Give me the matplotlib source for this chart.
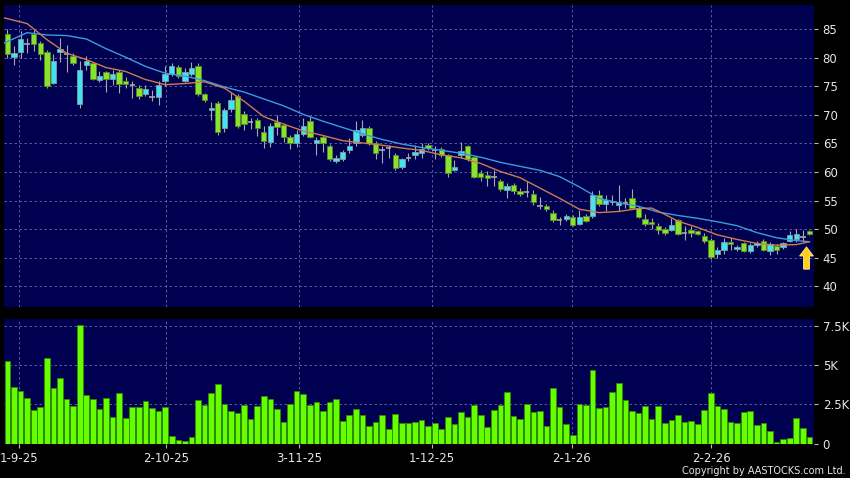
import matplotlib
matplotlib.use("Agg")
import matplotlib.pyplot as plt
import numpy as np
from matplotlib.patches import FancyArrow

# ---- daily candles (open / high / low / close) ----
opens = [84.1, 80.2, 81.1, 82.5, 84.2, 82.6, 81.1, 75.6, 81.1, 80.7,
         80.3, 71.9, 78.8, 79.1, 76.2, 77.5, 76.3, 77.6, 76.0, 75.2,
         74.8, 73.6, 73.1, 73.1, 75.9, 77.1, 78.4, 76.0, 77.1, 78.5,
         73.6, 70.8, 72.1, 67.7, 71.1, 73.3, 70.1, 68.8, 69.1, 67.1,
         65.2, 68.7, 68.3, 66.1, 65.1, 66.7, 68.9, 65.0, 66.1, 64.6,
         61.9, 62.2, 63.8, 65.0, 66.5, 67.7, 65.1, 63.9, 64.2, 63.0,
         60.9, 62.5, 63.0, 63.4, 64.8, 63.8, 64.0, 62.9, 60.4, 62.9,
         64.5, 62.6, 59.9, 59.4, 59.1, 58.4, 56.8, 57.8, 56.6, 56.5,
         56.2, 54.0, 54.1, 52.9, 51.6, 51.8, 52.1, 50.9, 52.3, 52.3,
         56.0, 54.4, 54.8, 54.3, 54.5, 55.4, 53.7, 51.8, 51.3, 50.6,
         50.0, 49.9, 51.6, 49.4, 49.9, 49.6, 48.8, 48.1, 45.7, 46.4,
         47.8, 46.5, 47.5, 46.2, 47.2, 48.0, 46.1, 47.1, 46.8, 48.0,
         48.2, 48.7, 49.6]
closes = [80.7, 80.9, 83.3, 82.5, 82.5, 80.7, 75.0, 79.5, 81.5, 80.7,
          79.1, 77.8, 79.5, 76.3, 76.9, 76.3, 77.1, 75.4, 75.4, 75.2,
          73.3, 74.6, 73.1, 75.2, 77.2, 78.5, 76.8, 77.6, 78.2, 73.6,
          72.6, 71.2, 67.0, 70.8, 72.6, 68.1, 68.5, 68.8, 67.7, 65.5,
          68.0, 67.9, 66.1, 65.1, 66.7, 68.1, 66.1, 65.7, 65.1, 62.3,
          62.5, 63.5, 64.6, 67.4, 67.7, 65.1, 63.3, 63.9, 64.2, 60.7,
          62.2, 62.5, 63.5, 64.0, 64.2, 63.8, 63.0, 59.9, 60.9, 63.7,
          62.2, 59.2, 59.2, 58.9, 59.1, 57.0, 57.6, 56.6, 56.2, 56.5,
          54.7, 54.0, 53.5, 51.6, 51.6, 52.3, 50.8, 52.1, 51.5, 56.0,
          54.4, 55.1, 54.8, 54.8, 54.5, 53.7, 52.2, 50.9, 50.9, 49.9,
          49.3, 50.8, 49.2, 49.4, 49.3, 49.2, 48.0, 45.1, 46.4, 47.8,
          47.4, 46.9, 46.2, 47.2, 47.6, 46.4, 47.4, 46.4, 47.5, 49.0,
          49.2, 48.7, 49.2]
highs = [85.0, 82.0, 84.7, 83.5, 84.8, 82.9, 81.3, 80.6, 83.4, 82.3,
         80.9, 79.4, 80.3, 79.3, 77.7, 77.7, 77.9, 77.8, 76.7, 75.9,
         75.3, 75.3, 74.4, 75.9, 78.5, 79.1, 78.7, 78.3, 79.3, 79.1,
         73.9, 72.2, 72.4, 71.2, 74.0, 73.6, 70.7, 69.5, 69.4, 68.0,
         68.6, 70.0, 68.6, 66.5, 67.4, 69.5, 69.6, 66.2, 66.5, 64.9,
         63.0, 63.8, 66.0, 68.9, 69.2, 68.0, 65.5, 64.5, 64.8, 63.3,
         62.5, 63.4, 64.8, 65.1, 65.1, 64.5, 64.3, 63.1, 62.1, 65.2,
         64.8, 62.8, 60.4, 60.1, 60.4, 58.7, 58.1, 58.1, 57.2, 58.4,
         56.8, 55.7, 54.4, 53.3, 52.2, 52.7, 52.4, 53.4, 52.6, 56.6,
         56.8, 56.0, 56.0, 57.7, 55.4, 57.0, 54.0, 52.6, 52.0, 51.1,
         50.3, 52.0, 51.8, 50.5, 50.5, 49.9, 49.3, 48.4, 46.8, 48.4,
         48.4, 47.3, 47.8, 47.5, 48.0, 48.3, 47.7, 47.4, 47.8, 49.6,
         50.1, 49.9, 49.9]
lows = [80.0, 78.8, 80.0, 80.8, 81.2, 79.7, 74.8, 75.4, 79.2, 77.6,
        78.8, 71.2, 77.9, 76.1, 75.7, 74.1, 75.2, 73.9, 74.7, 73.0,
        72.8, 73.3, 72.4, 71.8, 75.0, 76.8, 76.5, 75.7, 76.8, 73.4,
        72.3, 69.2, 66.5, 67.0, 70.6, 67.8, 67.4, 67.6, 66.3, 64.2,
        64.4, 66.5, 65.3, 64.0, 64.3, 66.4, 65.9, 63.0, 63.5, 62.0,
        61.6, 61.9, 63.4, 64.5, 66.2, 64.8, 62.3, 61.6, 62.5, 60.4,
        60.6, 61.9, 62.2, 62.5, 63.9, 62.2, 62.7, 59.2, 60.1, 62.5,
        62.0, 59.0, 58.4, 57.6, 57.5, 56.7, 55.5, 56.1, 55.8, 55.7,
        54.3, 53.5, 53.2, 51.3, 50.8, 51.5, 50.6, 50.7, 51.2, 52.0,
        54.0, 53.1, 54.3, 53.1, 53.7, 53.5, 51.9, 50.5, 50.0, 49.2,
        49.0, 49.6, 48.9, 48.1, 48.7, 48.9, 47.5, 44.8, 45.0, 45.6,
        46.4, 46.2, 46.0, 45.9, 46.9, 46.2, 45.5, 45.6, 46.5, 47.7,
        47.7, 47.9, 48.9]

# ---- volume (thousands) ----
volume_k = [5.25, 3.58, 3.37, 2.90, 2.14, 2.33, 5.47, 3.54, 4.17, 2.84,
            2.39, 7.52, 3.09, 2.86, 2.20, 2.92, 1.69, 3.20, 1.61, 2.35,
            2.35, 2.69, 2.29, 2.08, 2.35, 0.47, 0.23, 0.17, 0.44, 2.78,
            2.48, 3.22, 3.77, 2.54, 2.10, 1.97, 2.48, 1.57, 2.39, 3.01,
            2.86, 2.18, 1.40, 2.52, 3.35, 3.18, 2.44, 2.65, 2.08, 2.67,
            2.82, 1.44, 1.80, 2.20, 1.80, 1.10, 1.38, 1.84, 0.93, 1.89,
            1.31, 1.31, 1.38, 1.50, 1.12, 1.29, 0.91, 1.72, 1.25, 1.99,
            1.67, 2.46, 1.80, 1.08, 2.12, 2.46, 3.31, 1.76, 1.59, 2.52,
            2.01, 2.08, 1.12, 3.54, 2.35, 1.27, 0.57, 2.52, 2.44, 4.66,
            2.27, 2.33, 3.28, 3.88, 2.75, 2.08, 1.93, 2.39, 1.59, 2.39,
            1.33, 1.50, 1.80, 1.38, 1.44, 1.27, 2.12, 3.20, 2.39, 2.22,
            1.38, 1.33, 2.01, 2.10, 1.21, 1.31, 0.78, 0.11, 0.30, 0.38,
            1.63, 1.02, 0.44]

# ---- moving averages ----
ma_short_idx = [-0.5, 3, 6, 9, 12, 15, 18, 21, 24, 27, 30, 33, 36, 39, 42, 45, 48,
                51, 54, 57, 60, 63, 66, 69, 72, 75, 78, 81, 84, 87, 90, 93, 96,
                98, 100, 102, 105, 108, 111, 114, 117, 120, 122]
ma_short = [87.0, 86.0, 83.2, 80.8, 79.7, 78.3, 77.6, 76.2, 75.3, 75.5, 75.8,
            74.7, 72.4, 69.7, 68.4, 67.2, 66.4, 65.5, 65.1, 64.7, 64.2, 63.8,
            63.0, 62.5, 61.5, 60.1, 59.0, 57.2, 55.4, 53.5, 52.9, 53.1, 53.6,
            53.7, 52.6, 51.4, 50.3, 49.0, 48.2, 47.5, 47.2, 47.3, 47.8]
ma_long_idx = [-0.5, 3, 6, 9, 12, 15, 18, 21, 24, 27, 30, 33, 36, 39, 42, 45, 48,
               51, 54, 57, 60, 63, 66, 69, 72, 75, 78, 81, 84, 87, 90, 93, 96,
               99, 102, 105, 108, 111, 114, 117, 120, 122]
ma_long = [82.6, 84.4, 84.0, 83.9, 83.3, 81.6, 80.1, 78.5, 77.3, 76.8, 76.0,
           74.9, 74.0, 72.8, 71.6, 70.1, 68.9, 67.8, 66.7, 65.7, 64.9, 64.3,
           63.8, 63.3, 62.6, 61.7, 61.0, 60.3, 59.2, 57.4, 55.4, 54.6, 54.0,
           53.0, 52.4, 51.9, 51.3, 50.6, 49.4, 48.5, 48.0, 47.8]

# ---- axis labels ----
date_pos = [1.8, 24.15, 44.4, 64.6, 85.85, 107.05]
date_labels = ["1-9-25", "2-10-25", "3-11-25", "1-12-25", "2-1-26", "2-2-26"]
price_ticks = [40, 45, 50, 55, 60, 65, 70, 75, 80, 85]
vol_ticks = [0, 2.5, 5, 7.5]
vol_labels = ["0", "2.5K", "5K", "7.5K"]

# --------------------------------------------------
BG = "#000050"
GRID = "#6a6aa8"
TXT = "#e6e6e6"
UP = "#3fe6f2"
DOWN = "#86e32e"

fig = plt.figure(figsize=(8.5, 4.78), dpi=100, facecolor="black")
ax = fig.add_axes([4 / 850, 1 - 306.5 / 478, 810.3 / 850, 301.5 / 478])
axv = fig.add_axes([4 / 850, 1 - 443.7 / 478, 810.3 / 850, 124.7 / 478])

x = np.arange(len(opens))
o = np.array(opens)
c = np.array(closes)

for a in (ax, axv):
    a.set_facecolor(BG)
    for s in a.spines.values():
        s.set_visible(False)
    a.set_xlim(-0.52, 122.74)
    a.yaxis.tick_right()
    a.tick_params(axis="y", colors="#bbbbbb", labelcolor=TXT, length=3,
                  width=0.8, pad=3, labelsize=8.5)
    a.set_xticks(date_pos)
    for xp in date_pos:
        a.axvline(xp, color=GRID, lw=0.6, ls=(0, (3, 3)), zorder=0)

# ---- price panel ----
ax.set_ylim(36.46, 89.25)
ax.set_yticks(price_ticks)
ax.set_yticklabels([str(t) for t in price_ticks])
for yp in price_ticks:
    ax.axhline(yp, color=GRID, lw=0.6, ls=(0, (3, 3)), zorder=0)
ax.tick_params(axis="x", length=0, labelbottom=False)

ax.vlines(x, lows, highs, color="#a8a8a8", lw=0.8, zorder=2)
up = c > o
dn = c < o
eq = c == o
ax.bar(x[up], (c - o)[up], bottom=o[up], width=0.82, color=UP,
       edgecolor="#8a9aa0", linewidth=0.6, zorder=3)
ax.bar(x[dn], (o - c)[dn], bottom=c[dn], width=0.82, color=DOWN,
       edgecolor="#5c8a22", linewidth=0.6, zorder=3)
ax.hlines(o[eq], x[eq] - 0.41, x[eq] + 0.41, color="#a8a8a8", lw=1.2, zorder=3)

ax.plot(ma_long_idx, ma_long, color="#3b9be0", lw=1.0, zorder=4)
ax.plot(ma_short_idx, ma_short, color="#d07a4e", lw=1.0, zorder=4)

# yellow marker arrow next to the latest candle
ax.add_patch(FancyArrow(len(opens) - 1.45, 43.0, 0, 3.9, width=0.9,
                        head_width=2.1, head_length=1.6,
                        length_includes_head=True, facecolor="#ffcf1a",
                        edgecolor="#fff08a", linewidth=0.6, zorder=5))

# ---- volume panel ----
axv.set_ylim(0, 7.93)
axv.set_yticks(vol_ticks)
axv.set_yticklabels(vol_labels)
for yp in vol_ticks[1:]:
    axv.axhline(yp, color=GRID, lw=0.6, ls=(0, (3, 3)), zorder=0)
axv.bar(x, volume_k, width=0.86, color="#66ff00", edgecolor="#2f8a00",
        linewidth=0.6, zorder=3)
axv.set_xticklabels(date_labels)
axv.tick_params(axis="x", colors="#bbbbbb", labelcolor=TXT, length=3,
                width=0.8, pad=3, labelsize=8.5)

fig.text(846 / 850, 1 - 471 / 478, "Copyright by AASTOCKS.com Ltd.",
         color=TXT, fontsize=7, ha="right", va="center")

fig.savefig("out.png", dpi=100, facecolor="black")
